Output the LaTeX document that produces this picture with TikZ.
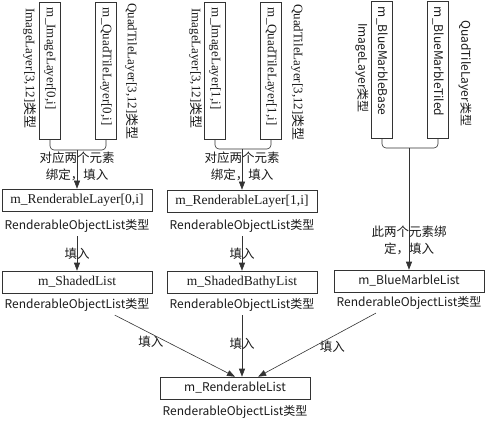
\documentclass[tikz,border=0pt]{standalone}
\usepackage{fontspec}
\setmainfont{Liberation Serif}
\newfontfamily\cjk{Noto Sans CJK SC}
\usepackage{tikz}
\usetikzlibrary{arrows.meta}
\definecolor{L0}{HTML}{333333}
\definecolor{T0}{HTML}{1a1a1a}

\begin{document}
\begin{tikzpicture}[x=1pt,y=-1pt,font=\fontsize{13}{15}\selectfont,text=T0,line width=0.6pt]
\tikzstyle{hbox}=[draw=L0,shape=rectangle,minimum width=150pt,minimum height=22pt,inner sep=0pt,font=\fontsize{13.5}{15}\selectfont]
\tikzstyle{vbox}=[draw=L0,shape=rectangle,rotate=-90,minimum height=21pt,text width=125pt,align=left,inner xsep=6pt,inner ysep=0pt]
\tikzstyle{vlab}=[rotate=-90,anchor=west,inner sep=0pt]
\tikzstyle{sans}=[font=\cjk\fontsize{12}{14}\selectfont]
\tikzstyle{cn}=[font=\cjk\fontsize{12.5}{17}\selectfont,align=center,inner sep=0pt]
\tikzstyle{arr}=[draw=L0,-{Triangle[length=8pt,width=6pt]}]
\tikzstyle{brace}=[draw=L0,rounded corners=4pt]

\useasboundingbox (0,0) rectangle (487,422);

% left column
\node[vbox](il0) at (50,70.5){m\_ImageLayer[0,i]};
\node[vbox](qt0) at (106,70.5){m\_QuadTileLayer[0,i]};
\node[vlab](il0l) at (30,8){ImageLayer[3,12]{\cjk 类型}};
\node[vlab](qt0l) at (132,3){QuadTileLayer[3,12]{\cjk 类型}};
\coordinate(tip0) at (77,150);
\node[cn](bind0) at (77,166.5){对应两个元素\\绑定，填入};
\node[hbox](rl0) at (77,200){m\_RenderableLayer[0,i]};
\node[sans](rl0l) at (77,226){RenderableObjectList类型};
\node[hbox](sl) at (77,282){m\_ShadedList};
\node[sans](sll) at (77,305){RenderableObjectList类型};
%
% middle column
\node[vbox](il1) at (215,70.5){m\_ImageLayer[1,i]};
\node[vbox](qt1) at (271,70.5){m\_QuadTileLayer[1,i]};
\node[vlab](il1l) at (196,8){ImageLayer[3,12]{\cjk 类型}};
\node[vlab](qt1l) at (298,4){QuadTileLayer[3,12]{\cjk 类型}};
\coordinate(tip1) at (242,149);
\node[cn](bind1) at (242,166.5){对应两个元素\\绑定，填入};
\node[hbox](rl1) at (242,201){m\_RenderableLayer[1,i]};
\node[sans](rl1l) at (242,226){RenderableObjectList类型};
\node[hbox](sbl) at (242,282){m\_ShadedBathyList};
\node[sans](sbll) at (242,305){RenderableObjectList类型};
%
% right column
\node[vbox,sans](bb) at (382,69.5){m\_BlueMarbleBase};
\node[vbox,sans](bt) at (438,69.5){m\_BlueMarbleTiled};
\node[vlab,sans](bbl) at (362,23){ImageLayer类型};
\node[vlab,sans](btl) at (465,20){QuadTileLayer类型};
\coordinate(tip2) at (409,148);
\node[cn](bind2) at (409,240){此两个元素绑\\定，填入};
\node[hbox,sans](bm) at (409,281){m\_BlueMarbleList};
\node[sans](bml) at (409,303){RenderableObjectList类型};
%
\node[hbox,sans](rlist) at (235,388){m\_RenderableList};
\node[sans](rlistl) at (235,412){RenderableObjectList类型};
%
\draw[brace] (il0.east) |- (tip0) -| (qt0.east);
\draw[brace] (il1.east) |- (tip1) -| (qt1.east);
\draw[brace] (bb.east) |- (tip2) -| (bt.east);
\draw[arr] (tip0) -- (rl0);
\draw[arr] (tip1) -- (rl1);
\draw[arr] (tip2) -- (bm);
\draw[arr] (rl0l) -- (sl) node[cn,midway]{填入};
\draw[arr] (rl1l) -- (sbl) node[cn,midway]{填入};
\draw[arr] (sll.-15) -- (rlist.north) node[cn,pos=0.3,below=2pt]{填入};
\draw[arr] (sbll) -- (sbll |- rlist.north) node[cn,pos=0.47]{填入};
\draw[arr] (bml.197) -- (rlist.26) node[cn,pos=0.37,below=4pt]{填入};
\end{tikzpicture}
\end{document}
